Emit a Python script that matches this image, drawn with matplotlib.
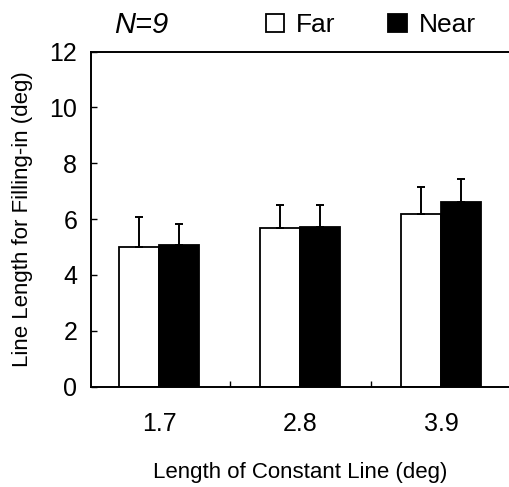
import matplotlib
matplotlib.use('Agg')
import matplotlib.pyplot as plt
from matplotlib.patches import Patch
import numpy as np

plt.rcParams['font.family'] = ['Liberation Sans', 'DejaVu Sans']

categories = ['1.7', '2.8', '3.9']
far_mean = [5.02, 5.67, 6.20]
far_err = [1.07, 0.84, 0.94]
near_mean = [5.09, 5.73, 6.61]
near_err = [0.72, 0.78, 0.83]

x = np.arange(len(categories))
w = 0.284

fig = plt.figure(figsize=(5.09, 4.87), dpi=100)
ax = fig.add_axes([0.179, 0.206, 0.821, 0.688])

ekw = dict(lw=1.4, capsize=3, capthick=1.4, ecolor='black')
ax.bar(x - w/2, far_mean, w, color='white', edgecolor='black', linewidth=1.3,
       yerr=[np.zeros(3), far_err], error_kw=ekw, zorder=2)
ax.bar(x + w/2, near_mean, w, color='black', edgecolor='black', linewidth=1.3,
       yerr=[np.zeros(3), near_err], error_kw=ekw, zorder=2)

ax.set_xlim(-0.482, 2.482)
ax.set_ylim(0, 12)
ax.set_yticks(range(0, 13, 2))
ax.set_xticks(x)
ax.set_xticklabels(categories)
ax.set_xticks([0.5, 1.5], minor=True)
ax.tick_params(axis='y', direction='in', length=4, width=1, labelsize=18, pad=10)
ax.tick_params(axis='x', which='major', length=0, labelsize=18, pad=18)
ax.tick_params(axis='x', which='minor', direction='in', length=4, width=1)
for s in ['left', 'top', 'bottom']:
    ax.spines[s].set_linewidth(1.4)
ax.spines['right'].set_visible(False)

ax.set_xlabel('Length of Constant Line (deg)', fontsize=16, labelpad=19)
ax.set_ylabel('Line Length for Filling-in (deg)', fontsize=16, labelpad=12)

fig.text(0.278, 0.948, 'N=9', fontsize=21, style='italic', ha='center', va='center')
handles = [Patch(facecolor='white', edgecolor='black', lw=1.3, label='Far'),
           Patch(facecolor='black', edgecolor='black', lw=1.3, label='Near')]
fig.legend(handles=handles, loc='center', bbox_to_anchor=(0.728, 0.948), ncol=2,
           frameon=False, fontsize=19, handlelength=0.7, handleheight=0.7,
           handletextpad=0.45, columnspacing=2.0, borderpad=0)

fig.savefig('out.png', dpi=100)
